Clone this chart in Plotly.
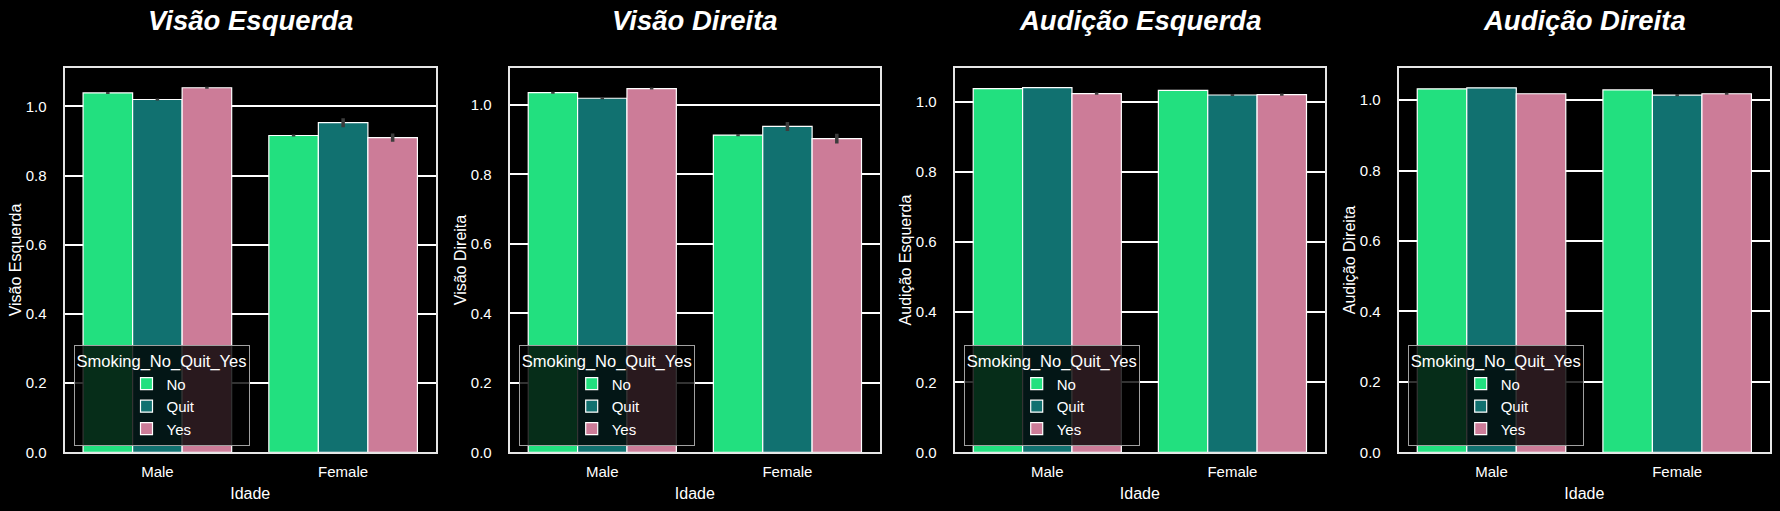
import plotly.graph_objects as go

categories = ["Male", "Female"]
groups = ["No", "Quit", "Yes"]
titles = ["Visão Esquerda", "Visão Direita", "Audição Esquerda", "Audição Direita"]
x_label = "Idade"
legend_title = "Smoking_No_Quit_Yes"

# Visão Esquerda
ve_no = [1.039, 0.916]
ve_quit = [1.020, 0.953]
ve_yes = [1.054, 0.910]
ve_no_err = [0.003, 0.003]
ve_quit_err = [0.003, 0.013]
ve_yes_err = [0.003, 0.012]

# Visão Direita
vd_no = [1.035, 0.913]
vd_quit = [1.019, 0.938]
vd_yes = [1.047, 0.903]
vd_no_err = [0.003, 0.003]
vd_quit_err = [0.003, 0.013]
vd_yes_err = [0.003, 0.014]

# Audição Esquerda
ae_no = [1.038, 1.033]
ae_quit = [1.041, 1.020]
ae_yes = [1.024, 1.021]
ae_no_err = [0.0, 0.0]
ae_quit_err = [0.0, 0.003]
ae_yes_err = [0.003, 0.003]

# Audição Direita
ad_no = [1.032, 1.029]
ad_quit = [1.035, 1.014]
ad_yes = [1.018, 1.018]
ad_no_err = [0.0, 0.0]
ad_quit_err = [0.0, 0.003]
ad_yes_err = [0.0, 0.003]

y_max = [1.112, 1.107, 1.098, 1.092]

panels = [
    [(ve_no, ve_no_err), (ve_quit, ve_quit_err), (ve_yes, ve_yes_err)],
    [(vd_no, vd_no_err), (vd_quit, vd_quit_err), (vd_yes, vd_yes_err)],
    [(ae_no, ae_no_err), (ae_quit, ae_quit_err), (ae_yes, ae_yes_err)],
    [(ad_no, ad_no_err), (ad_quit, ad_quit_err), (ad_yes, ad_yes_err)],
]

colors = ["#22e07f", "#117170", "#cc7c98"]
FONT = "Liberation Sans, Arial, sans-serif"
W, H = 1780, 511

x_px = [(64.5, 436.0), (509.7, 880.0), (954.7, 1325.0), (1398.7, 1770.0)]
y_top, y_bot = 67.7, 452.3

fig = go.Figure()
layout = dict(
    width=W, height=H,
    paper_bgcolor="black", plot_bgcolor="black",
    margin=dict(l=0, r=0, t=0, b=0, autoexpand=False),
    font=dict(family=FONT, color="white", size=15),
    barmode="group", bargap=0.2, bargroupgap=0.0,
    annotations=[],
)

for i, panel in enumerate(panels):
    n = i + 1
    xa = "x" if n == 1 else f"x{n}"
    ya = "y" if n == 1 else f"y{n}"
    leg = "legend" if n == 1 else f"legend{n}"
    for g, (vals, errs) in enumerate(panel):
        fig.add_trace(go.Bar(
            x=categories, y=vals, name=groups[g],
            marker=dict(color=colors[g], line=dict(color="white", width=1.2)),
            error_y=dict(type="data", array=errs, visible=True, color="#3c3c3c",
                         thickness=3.5, width=0),
            xaxis=xa, yaxis=ya, legend=leg, offsetgroup=str(g),
        ))
    x0, x1 = x_px[i]
    dom_x = [x0 / W, x1 / W]
    dom_y = [1 - y_bot / H, 1 - y_top / H]
    axkey = "xaxis" if n == 1 else f"xaxis{n}"
    aykey = "yaxis" if n == 1 else f"yaxis{n}"
    layout[axkey] = dict(
        domain=dom_x, anchor=ya, range=[-0.5, 1.5], automargin=False,
        showgrid=False, showline=True, mirror=True, linecolor="#e6e6e6", linewidth=2,
        ticks="", tickfont=dict(size=15, color="white"),
        title=dict(text=x_label, font=dict(size=16, color="white"), standoff=9),
        zeroline=False, ticklabelstandoff=5,
    )
    layout[aykey] = dict(
        domain=dom_y, anchor=xa, range=[0, y_max[i]], automargin=False,
        tickvals=[0, 0.2, 0.4, 0.6, 0.8, 1.0], tickformat=".1f",
        showgrid=True, gridcolor="white", gridwidth=1.5,
        showline=True, mirror=True, linecolor="#e6e6e6", linewidth=2,
        ticks="", tickfont=dict(size=15, color="white"),
        title=dict(text=titles[i], font=dict(size=16, color="white"), standoff=0),
        zeroline=False, ticklabelstandoff=13,
    )
    layout[leg] = dict(
        x=(x0 + 9) / W, y=1 - 446 / H, xanchor="left", yanchor="bottom",
        bgcolor="rgba(0,0,0,0.8)", bordercolor="#a0a0a0", borderwidth=1,
        title=dict(text=legend_title, side="top center", font=dict(size=16.5, color="white")),
        font=dict(size=15, color="white"), tracegroupgap=0, indentation=52,
    )
    layout["annotations"].append(dict(
        text=f"<b><i>{titles[i]}</i></b>", x=(x0 + x1) / 2 / W, y=1 - 21 / H,
        xref="paper", yref="paper", xanchor="center", yanchor="middle",
        showarrow=False, font=dict(size=27.5, color="white", family=FONT),
    ))

fig.update_layout(**layout)
fig.write_html("out.html", config={"displayModeBar": False},
               post_script="document.body.style.margin='0';document.body.style.background='black';")
